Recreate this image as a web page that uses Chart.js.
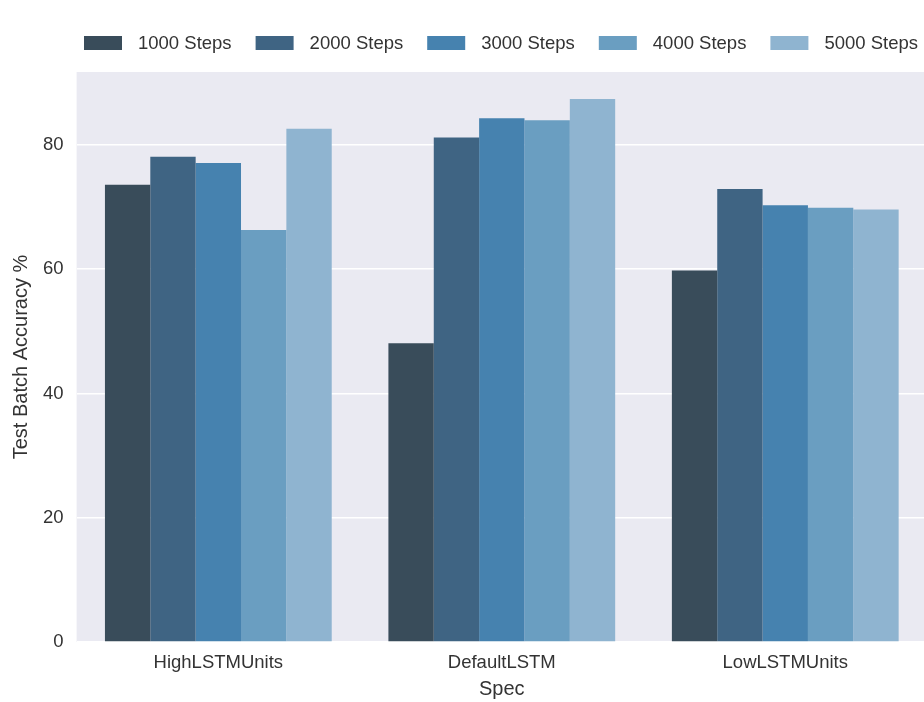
<!DOCTYPE html>
<html>
<head>
<meta charset="utf-8">
<script src="https://cdn.jsdelivr.net/npm/chart.js@4.4.0/dist/chart.umd.min.js"></script>
<style>
  html, body { margin: 0; padding: 0; background: #fff; overflow: hidden; }
  #wrap { width: 924px; height: 702px; overflow: hidden; }
</style>
</head>
<body>
<div id="wrap">
  <canvas id="myChart" width="928" height="702"></canvas>
</div>
<script>
// categories on the x axis
const specs = ['HighLSTMUnits', 'DefaultLSTM', 'LowLSTMUnits'];

// one series per training length
const steps1000 = [73.6, 48.1, 59.8];
const steps2000 = [78.1, 81.2, 72.9];
const steps3000 = [77.1, 84.3, 70.3];
const steps4000 = [66.3, 84.0, 69.9];
const steps5000 = [82.6, 87.4, 69.6];

const seriesNames = ['1000 Steps', '2000 Steps', '3000 Steps', '4000 Steps', '5000 Steps'];
const seriesColors = ['#394c5a', '#3f6483', '#4682af', '#6a9ec1', '#8fb4d0'];

const yTicks = [0, 20, 40, 60, 80];
const yMax = 91.75;

const FONT = "'Liberation Sans', Arial, sans-serif";
const TEXT = '#333333';

// seaborn style grey plot background
const plotBackground = {
    id: 'plotBackground',
    beforeDraw(chart) {
        let ctx = chart.ctx;
        let a = chart.chartArea;
        ctx.save();
        ctx.fillStyle = '#eaeaf2';
        ctx.fillRect(a.left, a.top, a.right - a.left, a.bottom - a.top);
        ctx.restore();
    }
};

// legend row across the top, like the matplotlib one
const topLegend = {
    id: 'topLegend',
    afterDraw(chart) {
        let ctx = chart.ctx;
        ctx.save();
        ctx.font = '18.5px ' + FONT;
        ctx.textBaseline = 'middle';
        let x = 84;
        let y = 43;
        chart.data.datasets.forEach(ds => {
            ctx.fillStyle = ds.backgroundColor;
            ctx.fillRect(x, y - 7, 38, 14);
            ctx.fillStyle = TEXT;
            ctx.fillText(ds.label, x + 54, y + 1);
            x += 54 + ctx.measureText(ds.label).width + 24;
        });
        ctx.restore();
    }
};

let allSeries = [steps1000, steps2000, steps3000, steps4000, steps5000];

let data = {
    labels: specs,
    datasets: allSeries.map((vals, i) => ({
        label: seriesNames[i],
        data: vals,
        backgroundColor: seriesColors[i],
        borderWidth: 0,
        categoryPercentage: 0.8,
        barPercentage: 1.0
    }))
};

let config = {
    type: 'bar',
    data: data,
    options: {
        responsive: false,
        animation: false,
        layout: { padding: { top: 72, left: 0, right: 1, bottom: 0 } },
        plugins: {
            legend: { display: false },
            tooltip: { enabled: false }
        },
        scales: {
            x: {
                grid: { display: false, drawTicks: false },
                border: { display: false },
                ticks: { color: TEXT, font: { family: FONT, size: 18.5 }, padding: 10 },
                title: {
                    display: true, text: 'Spec', color: TEXT,
                    font: { family: FONT, size: 20 }, padding: { top: 0, bottom: 1 }
                },
                afterFit(scale) { scale.height = 60; }
            },
            y: {
                min: 0,
                max: yMax,
                afterBuildTicks(scale) { scale.ticks = yTicks.map(v => ({ value: v })); },
                grid: { color: '#ffffff', lineWidth: 1.6, drawTicks: false },
                border: { display: false },
                ticks: { color: TEXT, font: { family: FONT, size: 18.5 }, padding: 13 },
                title: {
                    display: true, text: 'Test Batch Accuracy %', color: TEXT,
                    font: { family: FONT, size: 20 }, padding: { top: 9, bottom: 0 }
                },
                afterFit(scale) { scale.width = 76.6; }
            }
        }
    },
    plugins: [plotBackground, topLegend]
};

let myChart = new Chart(document.getElementById('myChart'), config);
</script>
</body>
</html>
